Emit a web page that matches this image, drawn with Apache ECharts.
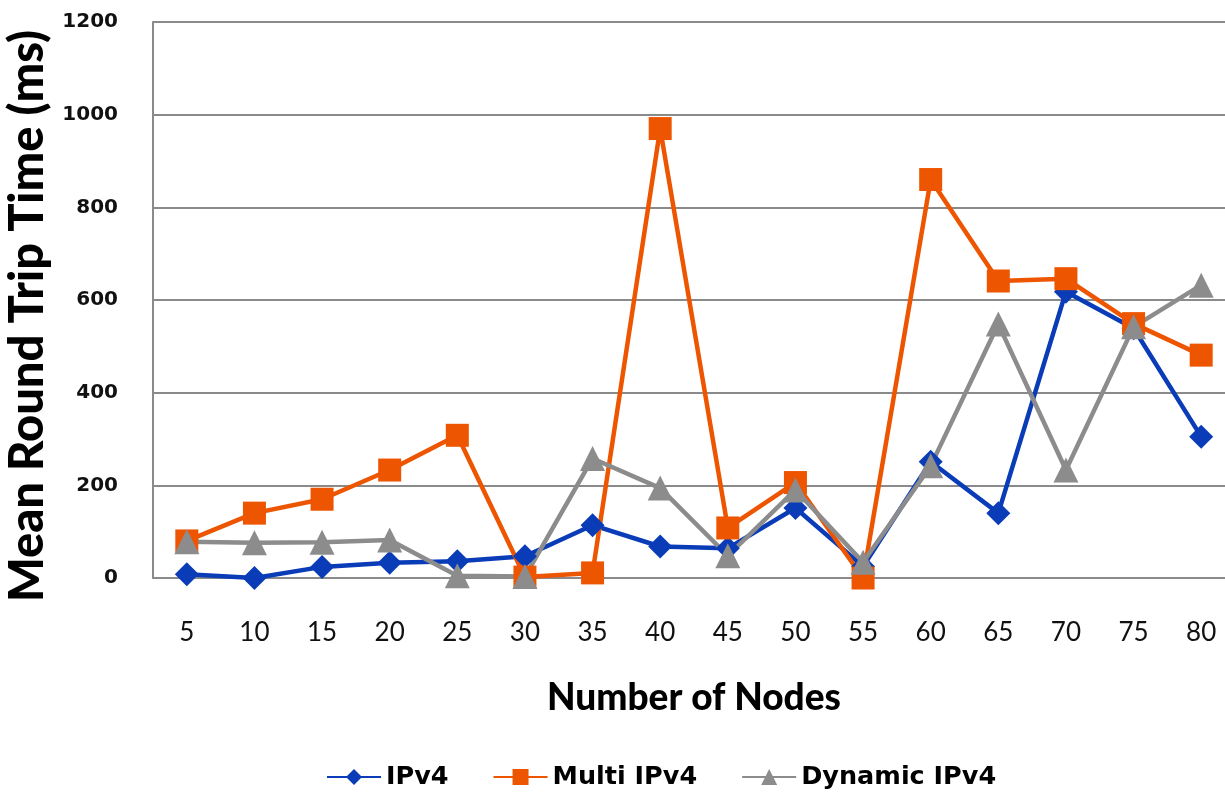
<!DOCTYPE html>
<html>
<head>
<meta charset="utf-8">
<script src="https://cdn.jsdelivr.net/npm/echarts@6/dist/echarts.min.js"></script>
<style>
  html, body { margin: 0; padding: 0; background: #fff; }
  #chart { width: 1225px; height: 794px; }
</style>
</head>
<body>
<div id="chart"></div>
<script>
// Number of nodes on the x axis
const nodes = ['5', '10', '15', '20', '25', '30', '35', '40', '45', '50', '55', '60', '65', '70', '75', '80'];

// Mean round trip time (ms) per protocol
const ipv4 = [8, 0, 24, 33, 36, 47, 114, 68, 64, 151, 25, 251, 140, 618, 539, 305];
const multiIpv4 = [80, 140, 170, 233, 308, 2, 11, 970, 108, 206, 0, 860, 641, 646, 549, 481];
const dynamicIpv4 = [78, 76, 77, 82, 5, 3, 258, 194, 48, 190, 34, 242, 548, 233, 542, 632];

const yTicks = { min: 0, max: 1200, interval: 200 };

const FONT = 'Lato, "Open Sans", sans-serif';
const WIDE = '"DejaVu Sans", sans-serif';

const chart = echarts.init(document.getElementById('chart'), null, { renderer: 'canvas' });

function lineSeries(name, data, color, symbol, size) {
  return {
    name: name,
    type: 'line',
    data: data,
    symbol: symbol,
    symbolSize: size,
    lineStyle: { color: color, width: 4.5 },
    itemStyle: { color: color },
    z: 3
  };
}

chart.setOption({
  animation: false,
  backgroundColor: '#ffffff',
  // the last category band runs past the right edge of the canvas
  grid: { left: 153, top: 22, width: 1082, height: 556, containLabel: false, outerBoundsMode: 'none' },
  legend: {
    top: 759,
    left: 321,
    itemWidth: 54,
    itemHeight: 20,
    itemGap: 44,
    textStyle: { fontFamily: WIDE, fontWeight: 'bold', fontSize: 25.5, color: '#000' },
    data: ['IPv4', 'Multi IPv4', 'Dynamic IPv4']
  },
  xAxis: {
    type: 'category',
    data: nodes,
    boundaryGap: true,
    name: 'Number of Nodes',
    nameLocation: 'middle',
    nameGap: 102,
    nameTextStyle: { fontFamily: FONT, fontWeight: 900, fontSize: 37, color: '#000' },
    axisLine: { lineStyle: { color: '#8a8a8a', width: 2 } },
    axisTick: { show: false },
    axisLabel: { fontFamily: FONT, fontSize: 26, color: '#111', margin: 42 },
    splitLine: { show: false }
  },
  yAxis: {
    type: 'value',
    min: yTicks.min,
    max: yTicks.max,
    interval: yTicks.interval,
    name: 'Mean Round Trip Time (ms)',
    nameLocation: 'middle',
    nameGap: 99,
    nameTextStyle: { fontFamily: FONT, fontWeight: 900, fontSize: 47, color: '#000', padding: [0, 32, 0, 0] },
    axisLine: { show: true, lineStyle: { color: '#8a8a8a', width: 2 } },
    axisTick: { show: false },
    axisLabel: {
      fontFamily: WIDE, fontWeight: 'bold', fontSize: 20, color: '#111', margin: 35,
      formatter: function (v) { return String(v); }
    },
    splitLine: { show: true, lineStyle: { color: '#8a8a8a', width: 2 } }
  },
  series: [
    lineSeries('IPv4', ipv4, '#0a3cb8', 'diamond', 24),
    lineSeries('Multi IPv4', multiIpv4, '#ee5500', 'rect', 23),
    lineSeries('Dynamic IPv4', dynamicIpv4, '#8c8c8c', 'triangle', 25)
  ]
});
</script>
</body>
</html>
